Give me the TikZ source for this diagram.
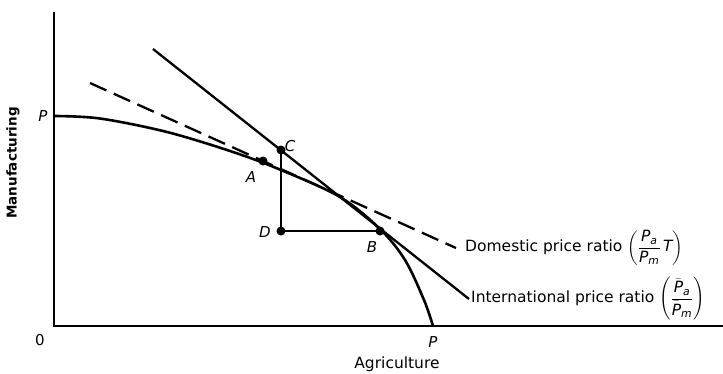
\documentclass[tikz,border=0pt]{standalone}
\usepackage{amsmath}
\usepackage{fontspec}
\setmainfont{DejaVu Sans}
\setsansfont{DejaVu Sans}
\newcommand{\iv}[1]{\text{\itshape #1}}
\begin{document}
\begin{tikzpicture}[x=1pt,y=-1pt,
  axis/.style={line width=2pt},
  curvestyle/.style={line width=2.6pt},
  ratioline/.style={line width=2.3pt},
  dashline/.style={line width=2.3pt, dash pattern=on 18pt off 8pt},
  guide/.style={line width=1.3pt},
  dot/.style={circle, fill=black, inner sep=0pt, minimum size=9pt},
  letter/.style={font=\fontsize{15}{17}\selectfont\itshape, inner sep=1pt},
  lbl/.style={font=\fontsize{15.5}{18}\selectfont, inner sep=0pt, anchor=west}]
\useasboundingbox (0,0) rectangle (723,373);
% axes
\coordinate (O) at (54,326);
\coordinate (ytop) at (54,12);
\coordinate (xend) at (723,326);
\draw[axis] (ytop) -- (O) -- (xend);
% production possibility curve
\draw[curvestyle] plot[smooth, tension=0.55] coordinates {(54,116) (100,118.5) (167,132) (233,152) (281,170) (340,197) (380,229) (405,260) (424,300) (433,326)};
% line labels
\node[lbl] (dom) at (465,248) {Domestic price ratio $\left(\dfrac{\iv{P}_{\iv{a}}\rule[-3pt]{0pt}{0pt}}{\rule{0pt}{12pt}\iv{P}_{\iv{m}}}\,\iv{T}\right)$};
\node[lbl] (int) at (471,299) {International price ratio $\left(\dfrac{\bar{\iv{P}}_{\iv{a}}\rule[-3pt]{0pt}{0pt}}{\rule{0pt}{14pt}\bar{\iv{P}}_{\iv{m}}}\right)$};
% price lines
\coordinate (domS) at (90,83);
\coordinate (intS) at (153,49);
\draw[dashline] (domS) -- ([xshift=-9pt]dom.west);
\draw[ratioline] (intS) -- ([xshift=-2pt]int.west);
% points
\coordinate (A) at (263,161);
\coordinate (C) at (281,150);
\coordinate (D) at (281,231);
\coordinate (B) at (380,231);
\draw[guide] (C) -- (D) -- (B);
\node[dot] (Adot) at (A) {};
\node[dot] (Cdot) at (C) {};
\node[dot] (Ddot) at (D) {};
\node[dot] (Bdot) at (B) {};
\node[letter] (Alab) at (251,177) {A};
\node[letter] (Clab) at (290,146) {C};
\node[letter] (Dlab) at (265,232) {D};
\node[letter] (Blab) at (372,247) {B};
\node[letter] (P1) at (43,116) {P};
\node[letter] (P2) at (433,342) {P};
\node[font=\fontsize{15}{17}\selectfont, inner sep=1pt] (zero) at (40,340) {0};
\node[font=\fontsize{15.5}{18}\selectfont] (agri) at (397,364) {Agriculture};
\node[font=\fontsize{13.5}{16}\selectfont\bfseries, rotate=90] (manu) at (13,163) {Manufacturing};
\end{tikzpicture}
\end{document}
